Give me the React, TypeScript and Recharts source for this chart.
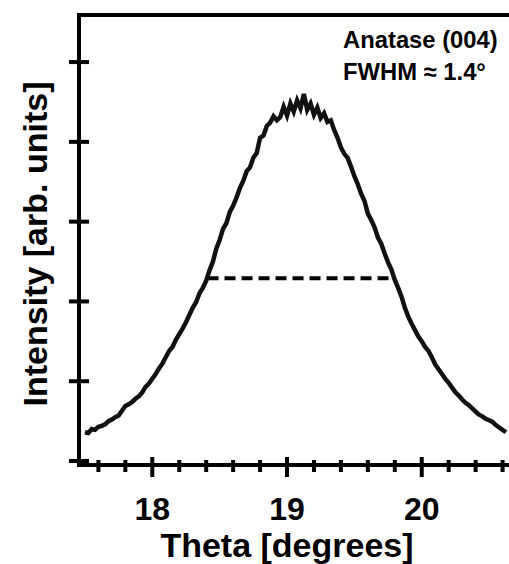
import React from 'react';
import { LineChart, Line, XAxis, YAxis, ReferenceLine, Customized } from 'recharts';

const thetaDeg = [
  17.5, 17.525, 17.55, 17.575, 17.6, 17.625, 17.65, 17.675, 17.7, 17.725,
  17.75, 17.775, 17.8, 17.825, 17.85, 17.875, 17.9, 17.925, 17.95, 17.975,
  18.0, 18.025, 18.05, 18.075, 18.1, 18.125, 18.15, 18.175, 18.2, 18.225,
  18.25, 18.275, 18.3, 18.325, 18.35, 18.375, 18.4, 18.425, 18.45, 18.475,
  18.5, 18.525, 18.55, 18.575, 18.6, 18.625, 18.65, 18.675, 18.7, 18.725,
  18.75, 18.775, 18.8, 18.825, 18.85, 18.875, 18.9, 18.925, 18.95, 18.975,
  19.0, 19.025, 19.05, 19.075, 19.1, 19.125, 19.15, 19.175, 19.2, 19.225,
  19.25, 19.275, 19.3, 19.325, 19.35, 19.375, 19.4, 19.425, 19.45, 19.475,
  19.5, 19.525, 19.55, 19.575, 19.6, 19.625, 19.65, 19.675, 19.7, 19.725,
  19.75, 19.775, 19.8, 19.825, 19.85, 19.875, 19.9, 19.925, 19.95, 19.975,
  20.0, 20.025, 20.05, 20.075, 20.1, 20.125, 20.15, 20.175, 20.2, 20.225,
  20.25, 20.275, 20.3, 20.325, 20.35, 20.375, 20.4, 20.425, 20.45, 20.475,
  20.5, 20.525, 20.55, 20.575, 20.6, 20.625,
];

const intensity = [
  0.36, 0.35, 0.40, 0.39, 0.43, 0.44, 0.46, 0.50, 0.52, 0.55,
  0.57, 0.63, 0.69, 0.71, 0.74, 0.78, 0.81, 0.86, 0.93, 0.97,
  1.03, 1.09, 1.16, 1.22, 1.30, 1.38, 1.43, 1.52, 1.59, 1.66,
  1.74, 1.83, 1.92, 1.99, 2.10, 2.17, 2.26, 2.39, 2.50, 2.66,
  2.77, 2.91, 2.98, 3.12, 3.20, 3.30, 3.42, 3.51, 3.63, 3.68,
  3.80, 3.86, 4.05, 4.08, 4.20, 4.24, 4.32, 4.27, 4.31, 4.44,
  4.33, 4.48, 4.38, 4.52, 4.42, 4.60, 4.40, 4.48, 4.34, 4.43,
  4.30, 4.36, 4.25, 4.27, 4.15, 4.05, 3.93, 3.85, 3.80, 3.69,
  3.57, 3.47, 3.35, 3.26, 3.10, 3.02, 2.93, 2.80, 2.72, 2.60,
  2.49, 2.40, 2.27, 2.17, 2.06, 1.92, 1.81, 1.72, 1.64, 1.56,
  1.50, 1.43, 1.38, 1.30, 1.21, 1.15, 1.09, 1.03, 0.98, 0.92,
  0.86, 0.82, 0.77, 0.73, 0.70, 0.66, 0.62, 0.58, 0.56, 0.53,
  0.51, 0.49, 0.45, 0.42, 0.39, 0.36,
];

const xTicks = [17.6, 17.8, 18, 18.2, 18.4, 18.6, 18.8, 19, 19.2, 19.4, 19.6, 19.8, 20, 20.2, 20.4, 20.6];
const xMajorTicks = [18, 19, 20];
const yTicks = [0, 1, 2, 3, 4, 5];
const xDomain = [17.456, 20.67];
const yDomain = [-0.05, 5.59];

const halfMax = 2.29;
const fwhmFrom = 18.41;
const fwhmTo = 19.76;

const annotationLines = ['Anatase (004)', 'FWHM \u2248 1.4\u00b0'];
const xTitle = 'Theta [degrees]';
const yTitle = 'Intensity [arb. units]';

const data = thetaDeg.map((t, i) => ({ theta: t, intensity: intensity[i] }));

const FONT = '"Liberation Sans", Arial, Helvetica, sans-serif';

const XTick = (props: any) => {
  const { x, y, payload } = props;
  const v = Math.round(payload.value * 10) / 10;
  const major = xMajorTicks.includes(v);
  return (
    <g>
      <line x1={x} x2={x} y1={y - (major ? 8 : 5)} y2={y + (major ? 12 : 7)} stroke="#000" strokeWidth={4} />
      {major && (
        <text x={x} y={y + 55} textAnchor="middle" fontSize={32} fontWeight="bold" fontFamily={FONT} fill="#000">
          {String(v)}
        </text>
      )}
    </g>
  );
};

const YTick = (props: any) => {
  const { x, y } = props;
  return <line x1={x - 10} x2={x + 10} y1={y} y2={y} stroke="#000" strokeWidth={4} />;
};

const Texts = () => (
  <g fontFamily={FONT} fontWeight="bold" fill="#000">
    <text x={343} y={48} fontSize={23.8}>{annotationLines[0]}</text>
    <text x={343} y={80} fontSize={23.8}>{annotationLines[1]}</text>
    <text x={287} y={557} fontSize={34} textAnchor="middle">{xTitle}</text>
    <text x={47} y={244} fontSize={34} textAnchor="middle" transform="rotate(-90, 47, 244)">{yTitle}</text>
  </g>
);

export default function App() {
  return (
    <div style={{ position: 'absolute', left: 0, top: 0, width: 509, height: 564, overflow: 'hidden', background: '#fff' }}>
      <LineChart width={512} height={564} data={data} margin={{ top: 15, right: 0, bottom: 0, left: 0 }}>
        <XAxis
          dataKey="theta"
          type="number"
          domain={xDomain}
          ticks={xTicks}
          allowDataOverflow
          interval={0}
          height={99}
          tickSize={0}
          tickMargin={0}
          tickLine={false}
          tick={<XTick />}
          axisLine={{ stroke: '#000', strokeWidth: 4, strokeLinecap: 'square' }}
        />
        <YAxis
          type="number"
          domain={yDomain}
          ticks={yTicks}
          allowDataOverflow
          interval={0}
          width={79}
          tickSize={0}
          tickMargin={0}
          tickLine={false}
          tick={<YTick />}
          axisLine={{ stroke: '#000', strokeWidth: 4, strokeLinecap: 'square' }}
        />
        <ReferenceLine y={yDomain[1]} stroke="#000" strokeWidth={4} />
        <ReferenceLine
          segment={[{ x: fwhmFrom, y: halfMax }, { x: fwhmTo, y: halfMax }]}
          stroke="#000"
          strokeWidth={4}
          strokeDasharray="11 6"
        />
        <Line
          dataKey="intensity"
          type="linear"
          stroke="#111"
          strokeWidth={4.5}
          dot={false}
          isAnimationActive={false}
        />
        <Customized component={Texts} />
      </LineChart>
    </div>
  );
}
